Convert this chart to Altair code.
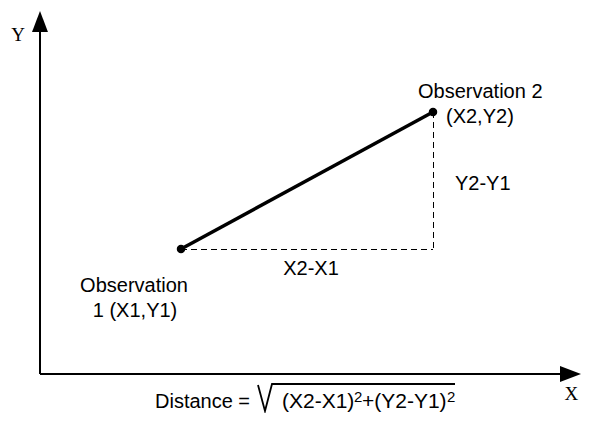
import altair as alt
import pandas as pd

# Diagram units: origin at the corner of the two axes
obs_x = [141, 393]          # X1, X2
obs_y = [125, 262]          # Y1, Y2
obs_names = ["1", "2"]

axis_tip_x = 530.5           # centre of x-axis arrowhead
axis_tip_y = 352.5           # centre of y-axis arrowhead

sqrt_x = [218, 225, 232, 415]
sqrt_y = [-11, -37, -10, -10]
formula_y = -28

W, H = 573, 405
xsc = alt.Scale(domain=[-32, -32 + W], nice=False, zero=False)
ysc = alt.Scale(domain=[366 - H, 366], nice=False, zero=False)


def X(f):
    return alt.X(f"{f}:Q", scale=xsc, axis=None)


def Y(f):
    return alt.Y(f"{f}:Q", scale=ysc, axis=None)


X1, X2 = obs_x
Y1, Y2 = obs_y

axes_df = pd.DataFrame({"x": [0, 0], "y": [0, 0], "x2": [0, axis_tip_x - 7.5], "y2": [axis_tip_y - 7.5, 0]})
axes = alt.Chart(axes_df).mark_rule(color="black", strokeWidth=2).encode(
    x=X("x"), y=Y("y"), x2="x2:Q", y2="y2:Q")

arrow_df = pd.DataFrame({"x": [0, axis_tip_x], "y": [axis_tip_y, 0], "angle": [0, 90]})
arrows = alt.Chart(arrow_df).mark_point(
    shape="M0,-1L-0.76,1L0.76,1Z", filled=True, color="black", opacity=1, size=441, strokeWidth=0
).encode(x=X("x"), y=Y("y"), angle=alt.Angle("angle:Q", scale=None))

seg_df = pd.DataFrame({"x": obs_x, "y": obs_y, "o": [0, 1]})
segment = alt.Chart(seg_df).mark_line(color="black", strokeWidth=3.5).encode(
    x=X("x"), y=Y("y"), order="o:Q")
dots = alt.Chart(seg_df).mark_circle(color="black", opacity=1, size=72).encode(x=X("x"), y=Y("y"))

hdash = alt.Chart(pd.DataFrame({"x": [X1], "x2": [X2], "y": [Y1]})).mark_rule(
    color="black", strokeWidth=1, strokeDash=[6, 4], yOffset=0.5
).encode(x=X("x"), x2="x2:Q", y=Y("y"))
vdash = alt.Chart(pd.DataFrame({"x": [X2], "y": [Y2], "y2": [Y1]})).mark_rule(
    color="black", strokeWidth=1, strokeDash=[6, 4], xOffset=0.5
).encode(x=X("x"), y=Y("y"), y2="y2:Q")

sqrt_df = pd.DataFrame({"x": sqrt_x, "y": sqrt_y, "o": [0, 1, 2, 3]})
sqrt = alt.Chart(sqrt_df).mark_line(color="black", strokeWidth=1.8).encode(
    x=X("x"), y=Y("y"), order="o:Q")

FONT = "Liberation Sans"
FS = 20


def label(df, align, dx, dy, font=FONT, size=FS):
    return alt.Chart(pd.DataFrame(df)).mark_text(
        align=align, baseline="middle", dx=dx, dy=dy, font=font, fontSize=size, color="black"
    ).encode(x=X("x"), y=Y("y"), text="t:N")


texts = [
    label({"x": [X1], "y": [Y1], "t": ["Observation"]}, "center", -47, 37),
    label({"x": [X1], "y": [Y1], "t": [f"{obs_names[0]} (X1,Y1)"]}, "center", -46, 62),
    label({"x": [X2], "y": [Y2], "t": [f"Observation {obs_names[1]}"]}, "left", -15, -20),
    label({"x": [X2], "y": [Y2], "t": ["(X2,Y2)"]}, "left", 13, 5),
    label({"x": [(X1 + X2) / 2], "y": [Y1], "t": ["X2-X1"]}, "center", 4, 20),
    label({"x": [X2], "y": [(Y1 + Y2) / 2], "t": ["Y2-Y1"]}, "left", 22, 3),
    label({"x": [0], "y": [axis_tip_y], "t": ["Y"]}, "center", -22, 13, font="Liberation Serif", size=19),
    label({"x": [axis_tip_x], "y": [0], "t": ["X"]}, "left", -6, 20, font="Liberation Serif", size=19),
    label({"x": [sqrt_x[0]], "y": [formula_y], "t": ["Distance ="]}, "left", -103, 0),
    label({"x": [sqrt_x[2]], "y": [formula_y], "t": ["(X2-X1)"]}, "left", 10, 0, size=21),
    label({"x": [sqrt_x[2]], "y": [formula_y], "t": ["2"]}, "left", 82, -5, size=15),
    label({"x": [sqrt_x[2]], "y": [formula_y], "t": ["+(Y2-Y1)"]}, "left", 90, 0, size=21),
    label({"x": [sqrt_x[2]], "y": [formula_y], "t": ["2"]}, "left", 175, -5, size=15),
]

chart = alt.layer(axes, arrows, hdash, vdash, segment, dots, sqrt, *texts).properties(
    width=W, height=H, padding=0, autosize=alt.AutoSizeParams(type="none"),
    background="white",
).configure_view(stroke=None)

chart.save("out.html", embed_options={"renderer": "svg", "actions": False})
